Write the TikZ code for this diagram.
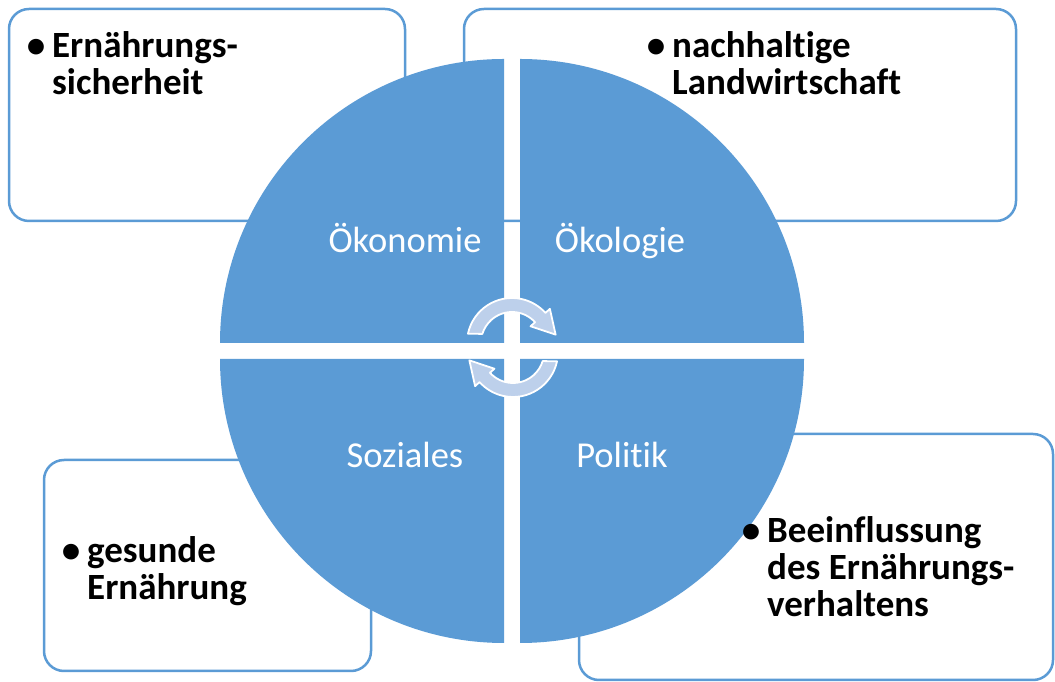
\documentclass[tikz,border=0pt]{standalone}
\usepackage{fontspec}
\setmainfont{Carlito}[Ligatures=NoCommon]
\usetikzlibrary{calc}
\definecolor{quadblue}{RGB}{91,155,213}
\definecolor{arrowblue}{RGB}{189,208,235}
\tikzset{
  box/.style={draw=quadblue, line width=2.5pt, rounded corners=20pt, fill=white},
  quad/.style={fill=quadblue},
  ringtext/.style={text=white, font=\fontsize{36.5}{40}\selectfont, anchor=base, inner sep=0pt},
  boxtext/.style={font=\bfseries\fontsize{37}{37}\selectfont, align=left, anchor=base west, inner sep=0pt},
  cyclearrow/.style={fill=arrowblue, draw=white, line width=1.8pt, line join=round}
}
\def\bul{\llap{\textbullet\hspace{7pt}}}
\begin{document}
\begin{tikzpicture}[x=1pt,y=1pt]
		%%%%% START %%%%%
		\useasboundingbox (0,0) rectangle (1055,682);
		
		% boxes behind the circle
		\draw[box] (9,461) rectangle (405,673);
		\draw[box] (464,461) rectangle (1016,673);
		\draw[box] (44,11) rectangle (371,222);
		\draw[box] (579,2) rectangle (1053,248);
		
		% the four quarters
		\fill[quad] (504,339) -- ++(180:284) arc (180:90:284) -- cycle;
		\fill[quad] (520,339) -- ++(0:284) arc (0:90:284) -- cycle;
		\fill[quad] (504,323) -- ++(180:284) arc (180:270:284) -- cycle;
		\fill[quad] (520,323) -- ++(0:284) arc (0:-90:284) -- cycle;
		
		\node[ringtext] (oekonomie) at (405,429) {Ökonomie};
		\node[ringtext] (oekologie) at (620,429) {Ökologie};
		\node[ringtext] (soziales) at (405,214) {Soziales};
		\node[ringtext] (politik) at (622,214) {Politik};
		
		% cycle arrows
		\begin{scope}[shift={(512,339)}]
			\draw[cyclearrow] (168:45) arc (168:42:45) -- (42:51) -- ($(42:38)+(-48:23)$) -- (42:25) -- (42:31) arc (42:163:31) -- cycle;
		\end{scope}
		\begin{scope}[shift={(513,330)}, rotate=180]
			\draw[cyclearrow] (168:45) arc (168:42:45) -- (42:51) -- ($(42:38)+(-48:23)$) -- (42:25) -- (42:31) arc (42:163:31) -- cycle;
		\end{scope}
		
		% box texts (placed at the baseline of the last line)
		\node[boxtext] (sicherheit) at (52,587) {\bul Ernährungs-\\sicherheit};
		\node[boxtext] (landwirtschaft) at (672,587) {\bul nachhaltige\\Landwirtschaft};
		\node[boxtext] (gesund) at (87,82) {\bul gesunde\\Ernährung};
		\node[boxtext] (verhalten) at (767,65) {\bul Beeinflussung\\des Ernährungs-\\verhaltens};
		
		%%%%% END %%%%%
\end{tikzpicture}
\end{document}
